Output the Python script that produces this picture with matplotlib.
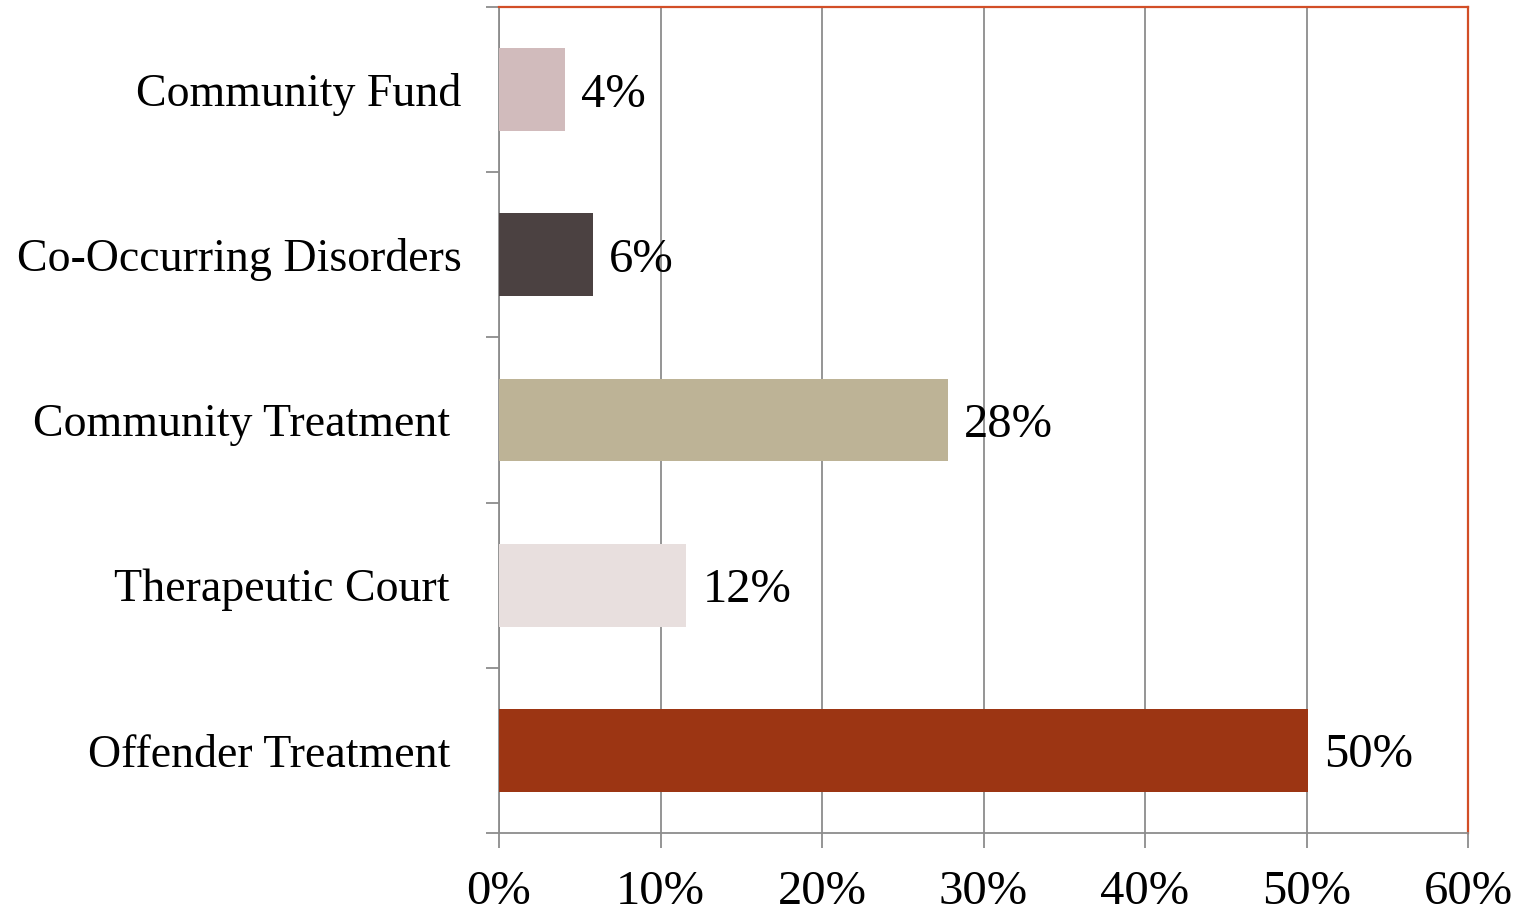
import matplotlib.pyplot as plt
from matplotlib.ticker import MultipleLocator, FuncFormatter

categories = ["Offender Treatment ", "Therapeutic Court ", "Community Treatment ",
              "Co-Occurring Disorders", "Community Fund"]
values = [50.1, 11.6, 27.8, 5.8, 4.1]
labels = ["50%", "12%", "28%", "6%", "4%"]
colors = ["#9c3513", "#e8dfde", "#bdb396", "#4b4141", "#d1bbbc"]

plt.rcParams["font.family"] = ["Liberation Serif", "DejaVu Serif"]

fig = plt.figure(figsize=(15.25, 9.17), dpi=100)
ax = fig.add_axes([499 / 1525, 1 - 833 / 917, 969 / 1525, 826 / 917])

pos = list(range(len(categories)))
ax.barh(pos, values, height=0.5, color=colors, zorder=3)

# value labels just right of each bar
for p, v, lab in zip(pos, values, labels):
    ax.text(v + 1.0, p - 0.03, lab, va="center", ha="left", fontsize=35)

ax.set_xlim(0, 60)
ax.set_ylim(-0.5, len(categories) - 0.5)
ax.xaxis.set_major_locator(MultipleLocator(10))
ax.xaxis.set_major_formatter(FuncFormatter(lambda x, _: f"{x:.0f}%"))
ax.grid(axis="x", color="#8c8c8c", linewidth=1.3, zorder=0)

ax.set_yticks(pos)
ax.set_yticklabels(categories, fontsize=33)
ax.set_yticks([p - 0.5 for p in range(len(categories) + 1)], minor=True)
ax.tick_params(axis="y", which="major", length=0, pad=27)
ax.tick_params(axis="y", which="minor", length=9.5, width=1.3, color="#8c8c8c")
ax.tick_params(axis="x", length=11, width=1.3, color="#8c8c8c", labelsize=35, pad=16)

for side in ["left", "bottom"]:
    ax.spines[side].set_color("#8c8c8c")
    ax.spines[side].set_linewidth(1.3)
for side in ["top", "right"]:
    ax.spines[side].set_color("#d24e27")
    ax.spines[side].set_linewidth(1.6)

fig.savefig("out.png", dpi=100)
